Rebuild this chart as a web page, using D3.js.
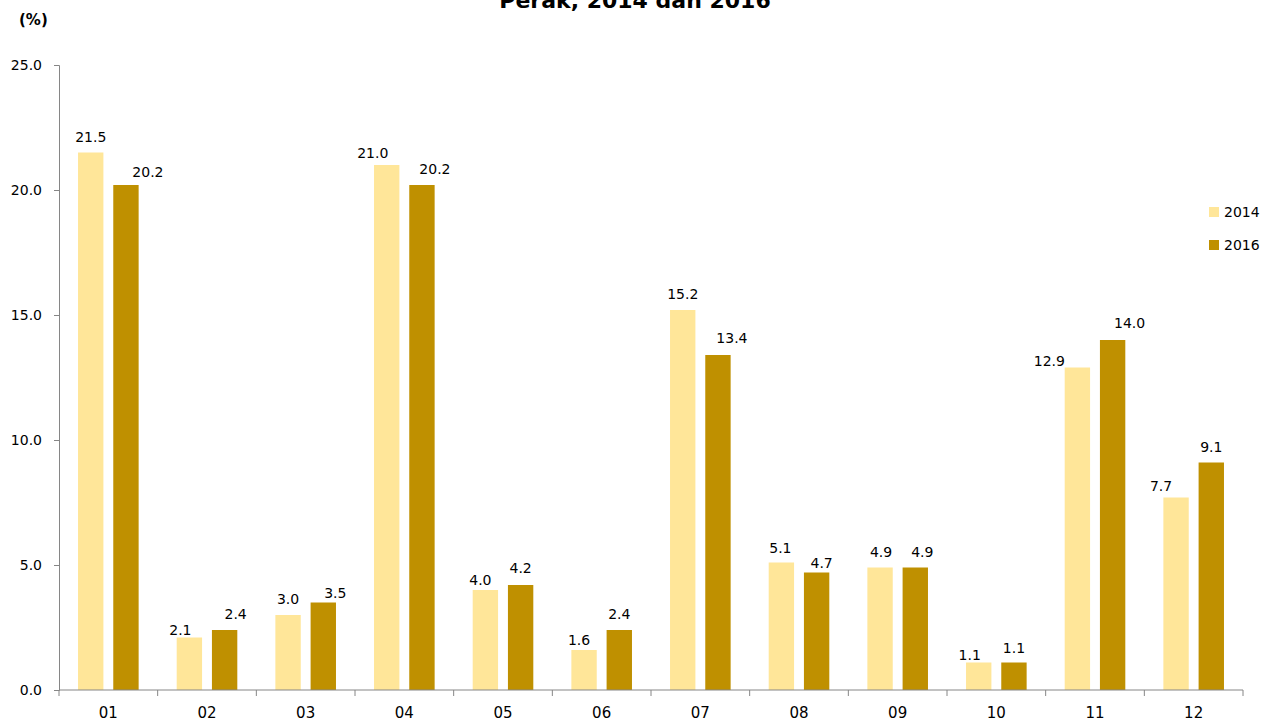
<!DOCTYPE html>
<html>
<head>
<meta charset="utf-8">
<script src="https://cdn.jsdelivr.net/npm/d3@7"></script>
<style>
  body { margin: 0; background: #fff; }
  text { font-family: "DejaVu Sans", Verdana, sans-serif; }
</style>
</head>
<body>
<div id="chart"></div>
<script>
// Données
const categories = ["01", "02", "03", "04", "05", "06", "07", "08", "09", "10", "11", "12"];
const keys = ["2014", "2016"];
const values2014 = [21.5, 2.1, 3.0, 21.0, 4.0, 1.6, 15.2, 5.1, 4.9, 1.1, 12.9, 7.7];
const values2016 = [20.2, 2.4, 3.5, 20.2, 4.2, 2.4, 13.4, 4.7, 4.9, 1.1, 14.0, 9.1];
const yTicks = [0, 5, 10, 15, 20, 25];

// Décalages des étiquettes (placées à la main dans l'original), en px par rapport au haut de la barre
const nudge = {
    "2014": {dx: [0, -9, 0, -14, -5, -5, 0, -1, 1, -9, -28, -15],
             dy: [-11, -3, -11, -7, -5, -5, -11, -10, -11, -3, -2, -7]},
    "2016": {dx: [22, 11, 12, 13, 0, 0, 14, 5, 7, 0, 17, 0],
             dy: [-8, -11, -5, -11, -12, -11, -12, -5, -11, -10, -12, -11]}
};

const colors = ["#FFE699", "#BF9000"],
    axisColor = "#868686",
    W = 1270, H = 722,
    margin = {top: 65, right: 27, bottom: 32, left: 59},
    width = W - margin.left - margin.right,
    height = H - margin.top - margin.bottom;

const data = categories.map((c, i) => ({cat: c, i: i, "2014": values2014[i], "2016": values2016[i]}));

const root = d3.select("#chart").append("svg")
    .attr("width", W)
    .attr("height", H);

const svg = root.append("g")
    .attr("transform", "translate(" + margin.left + "," + margin.top + ")");

const x0 = d3.scaleBand()
    .domain(categories)
    .range([0, width])
    .padding(0);

const x1 = d3.scaleBand()
    .domain(keys)
    .range([0, x0.bandwidth()])
    .paddingInner(0.28)
    .paddingOuter(0.54);

const y = d3.scaleLinear()
    .domain([0, 25])
    .range([height, 0]);

// titre (coupé en haut dans l'original)
root.append("text")
    .attr("x", 635)
    .attr("y", 8)
    .attr("text-anchor", "middle")
    .style("font-size", "22px")
    .style("font-weight", "bold")
    .text("Perak, 2014 dan 2016");

root.append("text")
    .attr("x", 19)
    .attr("y", 25)
    .style("font-size", "15px")
    .style("font-weight", "bold")
    .text("(%)");

// axe Y
const yAxis = svg.append("g")
    .call(d3.axisLeft(y).tickValues(yTicks).tickFormat(d3.format(".1f")).tickSize(5).tickPadding(12));
yAxis.selectAll("line, path").attr("stroke", axisColor);
yAxis.selectAll("text").style("font-size", "14px").attr("fill", "#000");

// barres
const groups = svg.selectAll("g.cat")
    .data(data)
    .enter().append("g")
    .attr("class", "cat")
    .attr("transform", d => "translate(" + x0(d.cat) + ",0)");

const cells = d => keys.map(k => ({key: k, value: d[k], i: d.i}));

groups.selectAll("rect")
    .data(cells)
    .enter().append("rect")
    .attr("x", d => x1(d.key))
    .attr("width", x1.bandwidth())
    .attr("y", d => y(d.value))
    .attr("height", d => height - y(d.value))
    .style("fill", (d, i) => colors[i]);

groups.selectAll("text.val")
    .data(cells)
    .enter().append("text")
    .attr("class", "val")
    .attr("x", d => x1(d.key) + x1.bandwidth() / 2 + nudge[d.key].dx[d.i])
    .attr("y", d => y(d.value) + nudge[d.key].dy[d.i])
    .attr("text-anchor", "middle")
    .style("font-size", "14px")
    .text(d => d.value.toFixed(1));

// axe X (graduations entre les catégories)
const xg = svg.append("g")
    .attr("transform", "translate(0," + height + ")");
xg.append("line")
    .attr("x1", 0).attr("x2", width)
    .attr("stroke", axisColor);
xg.selectAll("line.tick")
    .data(categories.concat(["end"]))
    .enter().append("line")
    .attr("x1", (d, i) => i < categories.length ? x0(d) : width)
    .attr("x2", (d, i) => i < categories.length ? x0(d) : width)
    .attr("y1", 0).attr("y2", 6)
    .attr("stroke", axisColor);
xg.selectAll("text")
    .data(categories)
    .enter().append("text")
    .attr("x", d => x0(d) + x0.bandwidth() / 2)
    .attr("y", 28)
    .attr("text-anchor", "middle")
    .style("font-size", "15px")
    .text(d => d);

// légende
const legend = root.append("g")
    .attr("transform", "translate(1209, 207)");
legend.selectAll("rect")
    .data(keys)
    .enter().append("rect")
    .attr("x", 0)
    .attr("y", (d, i) => i * 33)
    .attr("width", 10)
    .attr("height", 10)
    .style("fill", (d, i) => colors[i]);
legend.selectAll("text")
    .data(keys)
    .enter().append("text")
    .attr("x", 15)
    .attr("y", (d, i) => i * 33 + 10)
    .style("font-size", "14px")
    .text(d => d);
</script>
</body>
</html>
